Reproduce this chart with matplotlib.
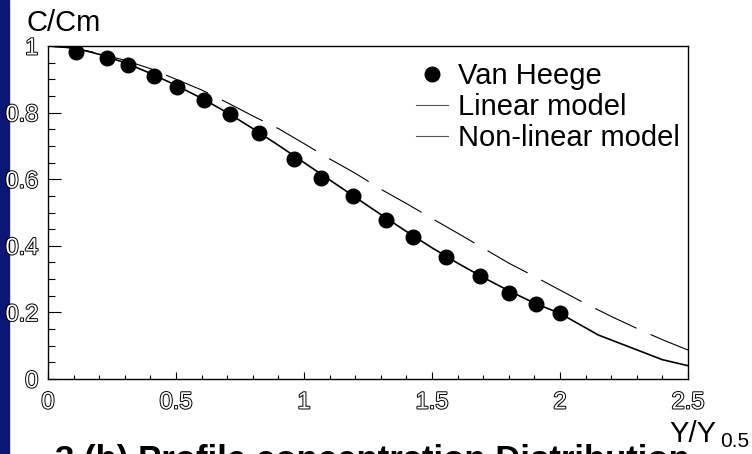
import numpy as np
import matplotlib
matplotlib.use("Agg")
import matplotlib.pyplot as plt
import matplotlib.patheffects as pe
from matplotlib.lines import Line2D
from matplotlib.patches import Rectangle
from matplotlib.ticker import MultipleLocator

plt.rcParams['font.family'] = ['Liberation Sans', 'DejaVu Sans']
plt.rcParams['lines.scale_dashes'] = False

# Van Heege measurements
vh_x = [0.109, 0.229, 0.314, 0.413, 0.503, 0.611, 0.711, 0.824, 0.962,
        1.068, 1.190, 1.320, 1.427, 1.555, 1.686, 1.801, 1.906, 1.999]
vh_y = [0.981, 0.963, 0.943, 0.910, 0.878, 0.838, 0.796, 0.740, 0.660,
        0.603, 0.551, 0.477, 0.426, 0.365, 0.309, 0.259, 0.225, 0.199]

# linear model (dashed)
lin_x = [0.0, 0.1, 0.2, 0.3, 0.4, 0.5, 0.6, 0.7, 0.8, 0.9, 1.0, 1.1, 1.2,
         1.3, 1.4, 1.5, 1.6, 1.7, 1.8, 1.9, 2.0, 2.1, 2.2, 2.3, 2.4, 2.5]
lin_y = [1.0, 0.993, 0.978, 0.957, 0.932, 0.900, 0.868, 0.830, 0.790, 0.752,
         0.707, 0.661, 0.618, 0.570, 0.527, 0.482, 0.438, 0.393, 0.348, 0.308,
         0.267, 0.226, 0.188, 0.152, 0.118, 0.087]

# non-linear model (solid)
nl_x = [0.0, 0.1, 0.2, 0.3, 0.4, 0.5, 0.6, 0.7, 0.8, 0.9, 1.0, 1.1, 1.2,
        1.3, 1.4, 1.5, 1.6, 1.7, 1.8, 1.9, 2.0, 2.15, 2.4, 2.5]
nl_y = [1.0, 0.995, 0.975, 0.950, 0.918, 0.882, 0.843, 0.800, 0.752, 0.702,
        0.650, 0.598, 0.546, 0.494, 0.443, 0.394, 0.348, 0.305, 0.265, 0.228,
        0.197, 0.132, 0.058, 0.040]

W, H = 752, 454
fig = plt.figure(figsize=(W / 100, H / 100), dpi=100)
fig.add_artist(Rectangle((0, 0), 9 / W, 1, transform=fig.transFigure,
                         color='#0b1676', zorder=0))

ax = fig.add_axes([48 / W, 1 - 379 / H, 640 / W, 333 / H])
ax.plot(nl_x, nl_y, color='black', lw=1.2, zorder=2)
ax.plot(lin_x, lin_y, color='black', lw=0.8, dashes=(33, 11), zorder=2)
ax.plot(vh_x, vh_y, 'o', color='black', ms=10.5, zorder=3)

ax.set_xlim(0, 2.5)
ax.set_ylim(0, 1)
ax.xaxis.set_major_locator(MultipleLocator(0.5))
ax.xaxis.set_minor_locator(MultipleLocator(0.1))
ax.yaxis.set_major_locator(MultipleLocator(0.2))
ax.yaxis.set_minor_locator(MultipleLocator(0.05))
ax.xaxis.set_major_formatter(plt.FuncFormatter(lambda v, p: f"{v:g}"))
ax.yaxis.set_major_formatter(plt.FuncFormatter(lambda v, p: f"{v:g}"))

ax.tick_params(axis='x', which='major', direction='in', length=5, width=0.8,
               pad=9, labelsize=17, labelcolor='white')
ax.tick_params(axis='x', which='minor', direction='in', length=3, width=0.8)
ax.tick_params(axis='y', which='major', direction='in', length=9.4, width=0.8,
               pad=7, labelsize=17, labelcolor='white')
ax.tick_params(axis='y', which='minor', direction='in', length=4.8, width=0.8)
hollow = [pe.withStroke(linewidth=1.4, foreground='black')]
for lab in ax.get_xticklabels() + ax.get_yticklabels():
    lab.set_path_effects(hollow)
for s in ax.spines.values():
    s.set_linewidth(1.0)

handles = [Line2D([], [], marker='o', ls='none', color='black', ms=10.5),
           Line2D([], [], color='#555555', lw=0.8),
           Line2D([], [], color='#555555', lw=0.8)]
ax.legend(handles, ['Van Heege', 'Linear model', 'Non-linear model'],
          loc='upper left', bbox_to_anchor=(416 / W, 1 - 62 / H),
          bbox_transform=fig.transFigure, frameon=False, fontsize=21,
          handlelength=1.1, handletextpad=0.35, labelspacing=0.1,
          borderpad=0, borderaxespad=0)

fig.text(26 / W, 1 - 31 / H, 'C/Cm', fontsize=21, va='baseline')
fig.text(669 / W, 1 - 442 / H, 'Y/Y', fontsize=21, va='baseline')
fig.text(720 / W, 1 - 447 / H, '0.5', fontsize=15, va='baseline')
fig.text(55 / W, 1 - 470 / H, '3 (b) Profile concentration Distribution',
         fontsize=25, fontweight='bold', va='baseline')

fig.savefig('out.png', dpi=100)
